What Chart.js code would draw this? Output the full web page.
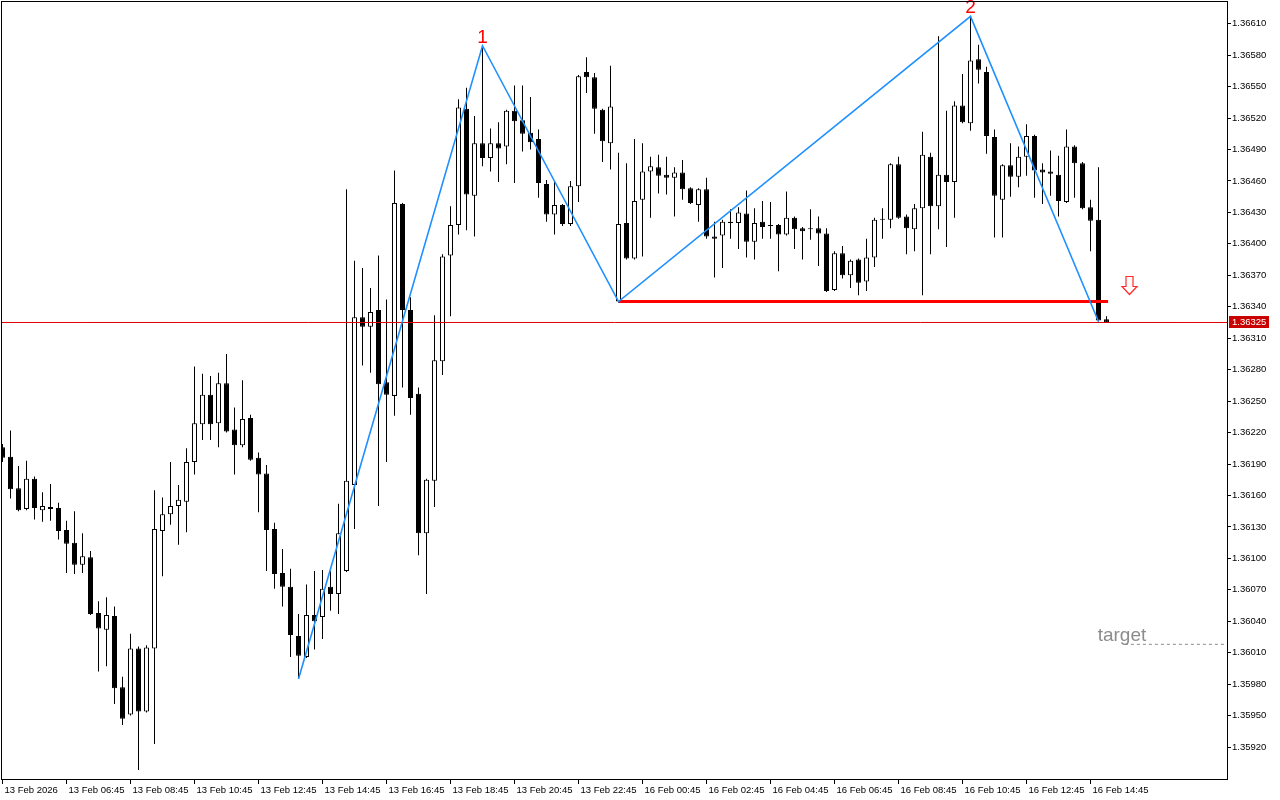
<!DOCTYPE html>
<html><head><meta charset="utf-8">
<script src="https://cdn.jsdelivr.net/npm/chart.js@4.4.1/dist/chart.umd.min.js"></script>
<style>html,body{margin:0;padding:0;background:#fff;overflow:hidden}#wrap{width:1280px;height:800px;position:relative}</style>
</head><body><div id="wrap"><canvas id="c" width="1280" height="800"></canvas></div>
<script>
// ---- data (15-minute bars, 13 Feb 2026 04:45 onward) ----
const opens = [
1.36206,1.36197,1.36167,1.36147,1.36176,1.36146,1.36149,1.36148,1.36127,1.36115,
1.36094,1.36101,1.36048,1.36032,1.36045,1.35977,1.35951,1.36014,1.35954,1.36014,
1.36126,1.36142,1.36150,1.36154,1.36192,1.36228,1.36256,1.36229,1.36267,1.36223,
1.36208,1.36234,1.36196,1.36181,1.36128,1.36086,1.36073,1.36026,1.36006,1.36046,
1.36044,1.36073,1.36066,1.36088,1.36170,1.36330,1.36321,1.36337,1.36268,1.36255,
1.36438,1.36337,1.36257,1.36124,1.36174,1.36288,1.36389,1.36418,1.36529,1.36446,
1.36496,1.36482,1.36496,1.36493,1.36527,1.36518,1.36506,1.36500,1.36457,1.36428,
1.36437,1.36419,1.36455,1.36564,1.36559,1.36528,1.36496,1.36345,1.36420,1.36386,
1.36442,1.36469,1.36473,1.36466,1.36463,1.36468,1.36453,1.36437,1.36452,1.36407,
1.36408,1.36421,1.36420,1.36429,1.36402,1.36421,1.36418,1.36418,1.36409,1.36425,
1.36415,1.36415,1.36415,1.36410,1.36356,1.36391,1.36370,1.36385,1.36364,1.36387,
1.36424,1.36423,1.36476,1.36426,1.36414,1.36434,1.36483,1.36436,1.36466,1.36459,
1.36532,1.36515,1.36576,1.36564,1.36502,1.36442,1.36475,1.36464,1.36483,1.36503,
1.36471,1.36469,1.36466,1.36440,1.36493,1.36477,1.36435,1.36423,1.36328];
const highs = [
1.36209,1.36222,1.36188,1.36193,1.36178,1.36163,1.36171,1.36153,1.36136,1.36145,
1.36124,1.36107,1.36059,1.36063,1.36054,1.35987,1.36028,1.36016,1.36017,1.36165,
1.36158,1.36192,1.36170,1.36205,1.36283,1.36276,1.36274,1.36277,1.36295,1.36244,
1.36270,1.36237,1.36201,1.36189,1.36134,1.36109,1.36090,1.36047,1.36075,1.36088,
1.36089,1.36088,1.36152,1.36452,1.36384,1.36377,1.36358,1.36389,1.36347,1.36470,
1.36439,1.36349,1.36263,1.36176,1.36332,1.36390,1.36436,1.36538,1.36549,1.36522,
1.36589,1.36510,1.36516,1.36528,1.36551,1.36551,1.36540,1.36509,1.36461,1.36459,
1.36438,1.36460,1.36561,1.36578,1.36563,1.36529,1.36570,1.36487,1.36477,1.36500,
1.36496,1.36483,1.36485,1.36483,1.36473,1.36480,1.36454,1.36453,1.36463,1.36421,
1.36423,1.36433,1.36435,1.36451,1.36434,1.36441,1.36440,1.36419,1.36450,1.36426,
1.36416,1.36433,1.36426,1.36415,1.36393,1.36398,1.36385,1.36386,1.36405,1.36425,
1.36434,1.36477,1.36483,1.36428,1.36438,1.36507,1.36487,1.36598,1.36527,1.36536,
1.36562,1.36617,1.36590,1.36569,1.36509,1.36476,1.36496,1.36493,1.36514,1.36504,
1.36477,1.36489,1.36484,1.36509,1.36494,1.36478,1.36442,1.36473,1.36331];
const lows = [
1.36192,1.36157,1.36145,1.36146,1.36137,1.36135,1.36136,1.36118,1.36086,1.36085,
1.36086,1.36046,1.35992,1.35997,1.35961,1.35941,1.35950,1.35898,1.35953,1.35923,
1.36083,1.36132,1.36113,1.36125,1.36180,1.36213,1.36213,1.36206,1.36220,1.36180,
1.36206,1.36193,1.36144,1.36088,1.36071,1.36054,1.36006,1.35985,1.36005,1.36013,
1.36023,1.36050,1.36047,1.36087,1.36128,1.36284,1.36277,1.36150,1.36192,1.36236,
1.36263,1.36237,1.36103,1.36066,1.36149,1.36275,1.36331,1.36409,1.36413,1.36407,
1.36474,1.36469,1.36459,1.36476,1.36458,1.36488,1.36490,1.36444,1.36421,1.36409,
1.36417,1.36417,1.36440,1.36544,1.36505,1.36478,1.36471,1.36344,1.36385,1.36385,
1.36388,1.36425,1.36448,1.36447,1.36426,1.36442,1.36438,1.36421,1.36405,1.36368,
1.36377,1.36405,1.36395,1.36387,1.36385,1.36405,1.36405,1.36374,1.36408,1.36395,
1.36385,1.36404,1.36379,1.36354,1.36355,1.36367,1.36358,1.36351,1.36355,1.36378,
1.36405,1.36415,1.36424,1.36390,1.36393,1.36351,1.36390,1.36414,1.36397,1.36425,
1.36515,1.36508,1.36553,1.36486,1.36406,1.36406,1.36445,1.36454,1.36465,1.36444,
1.36438,1.36446,1.36426,1.36439,1.36444,1.36433,1.36393,1.36326,1.36325];
const closes = [
1.36196,1.36166,1.36146,1.36176,1.36148,1.36150,1.36147,1.36126,1.36114,1.36094,
1.36102,1.36047,1.36033,1.36046,1.35976,1.35947,1.36014,1.35954,1.36015,1.36128,
1.36142,1.36150,1.36156,1.36192,1.36229,1.36256,1.36228,1.36267,1.36221,1.36208,
1.36233,1.36194,1.36180,1.36127,1.36085,1.36073,1.36027,1.36007,1.36046,1.36040,
1.36071,1.36066,1.36124,1.36174,1.36330,1.36321,1.36335,1.36266,1.36256,1.36439,
1.36337,1.36253,1.36124,1.36175,1.36289,1.36388,1.36418,1.36530,1.36447,1.36496,
1.36482,1.36496,1.36491,1.36527,1.36517,1.36505,1.36497,1.36458,1.36428,1.36437,
1.36419,1.36455,1.36560,1.36559,1.36529,1.36498,1.36531,1.36419,1.36386,1.36441,
1.36469,1.36474,1.36465,1.36463,1.36468,1.36452,1.36439,1.36452,1.36407,1.36405,
1.36421,1.36420,1.36430,1.36402,1.36420,1.36416,1.36417,1.36409,1.36425,1.36414,
1.36412,1.36414,1.36410,1.36355,1.36391,1.36370,1.36384,1.36363,1.36387,1.36423,
1.36423,1.36476,1.36425,1.36415,1.36434,1.36485,1.36436,1.36466,1.36459,1.36532,
1.36516,1.36575,1.36566,1.36503,1.36446,1.36475,1.36464,1.36483,1.36503,1.36470,
1.36468,1.36467,1.36441,1.36493,1.36477,1.36434,1.36422,1.36327,1.36325];

const tickIndex = [0,8,16,24,32,40,48,56,64,72,80,88,96,104,112,120,128,136];
const tickLabels = ["13 Feb 2026","13 Feb 06:45","13 Feb 08:45","13 Feb 10:45","13 Feb 12:45",
  "13 Feb 14:45","13 Feb 16:45","13 Feb 18:45","13 Feb 20:45","13 Feb 22:45","16 Feb 00:45",
  "16 Feb 02:45","16 Feb 04:45","16 Feb 06:45","16 Feb 08:45","16 Feb 10:45","16 Feb 12:45","16 Feb 14:45"];
const yTicks = [1.35920,1.35950,1.35980,1.36010,1.36040,1.36070,1.36100,1.36130,1.36160,1.36190,
  1.36220,1.36250,1.36280,1.36310,1.36340,1.36370,1.36400,1.36430,1.36460,1.36490,1.36520,
  1.36550,1.36580,1.36610];

const zigzagIdx = [37,60,77,121,137];
const zigzagPrice = [1.35985,1.36589,1.36345,1.36617,1.36326];
const pivotNames = ["1","2"];
const pivotIdx = [60,121];
const pivotPrice = [1.36589,1.36617];
const necklinePrice = 1.36345;
const necklineIdx = [77,138.2];
const bidPrice = 1.36325;
const targetPrice = 1.36018;
const targetLineIdx = 140.3;
const targetName = "target";
const targetNameIdx = 136.9;
const arrowIdx = 140.8;
const arrowPrice = 1.36369;
const xRange = [-0.0625, 153.0625];
const yRange = [1.3588953, 1.3663073];

// ---- build ----
const bodyData = opens.map((o,k)=>({x:k, y:[o, closes[k]]}));
const wickData = lows.map((l,k)=>({x:k, y:[l, highs[k]]}));
const bodyFill = opens.map((o,k)=> closes[k] > o ? '#FFFFFF' : '#000000');

const FONT = '"Liberation Sans", Arial, sans-serif';

const overlay = {
  id: 'overlay',
  afterDatasetsDraw(chart) {
    const {ctx, chartArea: a, scales: {x, y}} = chart;
    ctx.save();
    ctx.beginPath(); ctx.rect(a.left, 0, a.right - a.left, a.bottom); ctx.clip();
    ctx.font = '19px ' + FONT;
    ctx.fillStyle = '#FF0000'; ctx.textAlign = 'center'; ctx.textBaseline = 'alphabetic';
    pivotIdx.forEach((k,i)=>{
      ctx.fillText(pivotNames[i], x.getPixelForValue(k), y.getPixelForValue(pivotPrice[i]) - 3);
    });
    ctx.fillStyle = '#8C8C8C'; ctx.textAlign = 'left';
    ctx.fillText(targetName, x.getPixelForValue(targetNameIdx), y.getPixelForValue(targetPrice) - 3.5);
    // arrow
    const ax = Math.round(x.getPixelForValue(arrowIdx)) + 0.5, ay = Math.round(y.getPixelForValue(arrowPrice)) + 0.5;
    ctx.beginPath();
    ctx.moveTo(ax-3.5, ay); ctx.lineTo(ax+3.5, ay); ctx.lineTo(ax+3.5, ay+10);
    ctx.lineTo(ax+7.5, ay+10); ctx.lineTo(ax, ay+18); ctx.lineTo(ax-7.5, ay+10);
    ctx.lineTo(ax-3.5, ay+10); ctx.closePath();
    ctx.fillStyle = '#FFFFFF'; ctx.fill();
    ctx.strokeStyle = '#FF2A2A'; ctx.lineWidth = 1.2; ctx.stroke();
    ctx.restore();
    // frame
    ctx.save();
    ctx.strokeStyle = '#000'; ctx.lineWidth = 1;
    ctx.strokeRect(a.left - 0.5, a.top - 0.5, a.right - a.left + 1, a.bottom - a.top + 1);
    ctx.restore();
  },
  afterDraw(chart) {
    const {ctx, chartArea: a, scales: {y}} = chart;
    const py = y.getPixelForValue(bidPrice);
    ctx.save();
    ctx.fillStyle = '#C80000';
    ctx.fillRect(a.right + 2, Math.round(py) - 6, 40, 12);
    ctx.fillStyle = '#FFFFFF';
    ctx.font = '9.5px ' + FONT;
    ctx.textAlign = 'left'; ctx.textBaseline = 'middle';
    ctx.fillText(bidPrice.toFixed(5), a.right + 5, Math.round(py) + 0.5);
    ctx.restore();
  }
};

function fixFit(w, h) {
  return function(scale) {
    if (w !== null) scale.width = w;
    if (h !== null) scale.height = h;
    scale.paddingTop = 0; scale.paddingBottom = 0; scale.paddingLeft = 0; scale.paddingRight = 0;
  };
}

new Chart(document.getElementById('c'), {
  type: 'bar',
  data: {
    datasets: [
      { type: 'line', label: 'zigzag', data: zigzagIdx.map((k,i)=>({x:k, y:zigzagPrice[i]})),
        borderColor: '#1E90FF', borderWidth: 1.6, pointRadius: 0, tension: 0, fill: false, order: 0 },
      { type: 'line', label: 'neckline', data: necklineIdx.map(k=>({x:k, y:necklinePrice})),
        borderColor: '#FF0000', borderWidth: 3, pointRadius: 0, fill: false, order: 0.5 },
      { type: 'line', label: 'bid', data: xRange.map(k=>({x:k, y:bidPrice})),
        borderColor: '#E00000', borderWidth: 1, pointRadius: 0, fill: false, order: 0.6 },
      { type: 'line', label: 'target', data: [{x:targetLineIdx, y:targetPrice},{x:xRange[1], y:targetPrice}],
        borderColor: '#8C8C8C', borderWidth: 1, borderDash: [3,3], pointRadius: 0, fill: false, order: 0.7 },
      { type: 'bar', label: 'body', data: bodyData, backgroundColor: bodyFill, borderColor: '#000000',
        borderWidth: 1, borderSkipped: false, barThickness: 5, inflateAmount: 0, grouped: false, order: 1, clip: 0 },
      { type: 'bar', label: 'wick', data: wickData, backgroundColor: '#000000', borderWidth: 0,
        barThickness: 1, inflateAmount: 0, grouped: false, order: 2, clip: 0 }
    ]
  },
  options: {
    responsive: false,
    animation: false,
    devicePixelRatio: 1,
    events: [],
    layout: { padding: { left: 2, top: 2, right: 0, bottom: 0 }, autoPadding: false },
    plugins: { legend: { display: false }, tooltip: { enabled: false } },
    scales: {
      x: {
        type: 'linear', position: 'bottom', min: xRange[0], max: xRange[1], bounds: 'data', offset: false,
        afterFit: fixFit(null, 21),
        afterBuildTicks: (s) => { s.ticks = tickIndex.map(v => ({value: v})); },
        grid: { display: true, offset: false, drawOnChartArea: false, drawTicks: true, tickLength: 5, color: '#000', lineWidth: 1 },
        border: { display: false },
        ticks: { autoSkip: false, maxRotation: 0, minRotation: 0, align: 'start', labelOffset: 2, padding: 1,
          color: '#000', font: { family: FONT, size: 9.5 },
          callback: (v, i) => tickLabels[i] }
      },
      y: {
        type: 'linear', position: 'right', min: yRange[0], max: yRange[1], bounds: 'data', offset: false,
        afterFit: fixFit(53, null),
        afterBuildTicks: (s) => { s.ticks = yTicks.map(v => ({value: v})); },
        grid: { display: true, drawOnChartArea: false, drawTicks: true, tickLength: 4, color: '#000', lineWidth: 1 },
        border: { display: false },
        ticks: { padding: 1, color: '#000', font: { family: FONT, size: 9.5 },
          callback: (v) => Number(v).toFixed(5) }
      }
    }
  },
  plugins: [overlay]
});
</script></body></html>
